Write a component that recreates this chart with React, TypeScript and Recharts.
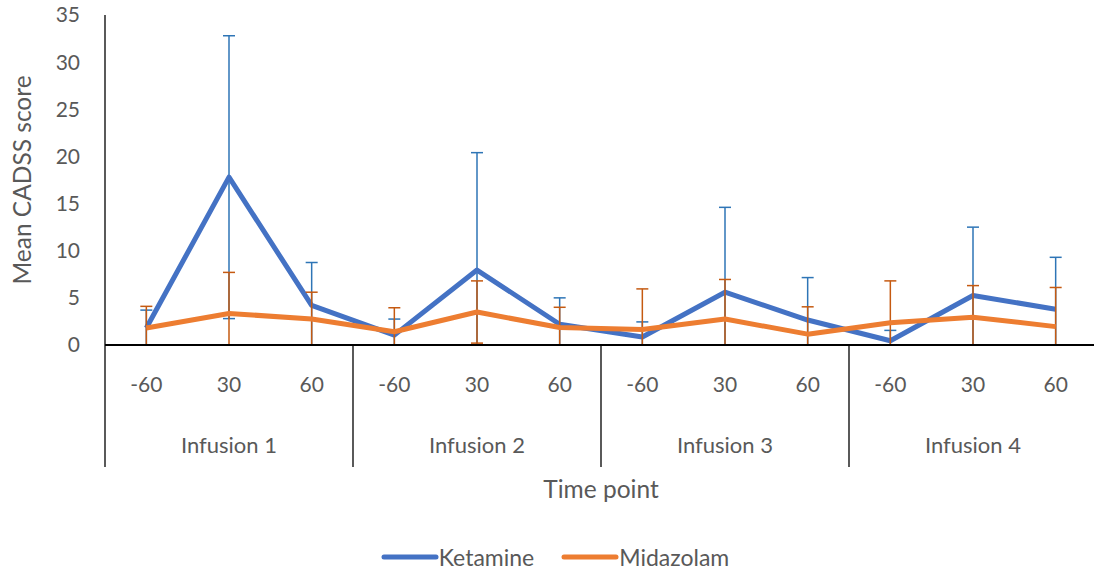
import { LineChart, Line, XAxis, YAxis, ErrorBar, Legend, ReferenceLine } from "recharts";

const groups = ["Infusion 1", "Infusion 2", "Infusion 3", "Infusion 4"];
const timePoints = ["-60", "30", "60"];

const ketamineMean = [1.8, 17.8, 4.2, 1.05, 7.95, 2.2, 0.85, 5.6, 2.65, 0.45, 5.25, 3.8];
const ketamineErr = [1.9, 15.0, 4.55, 1.7, 12.45, 2.8, 1.6, 9.0, 4.5, 1.1, 7.25, 5.5];
const midazolamMean = [1.8, 3.35, 2.75, 1.4, 3.5, 1.85, 1.65, 2.75, 1.15, 2.35, 2.95, 1.95];
const midazolamErr = [2.3, 4.35, 2.85, 2.55, 3.3, 2.15, 4.3, 4.2, 2.9, 4.45, 3.35, 4.15];

const yTicks = [0, 5, 10, 15, 20, 25, 30, 35];

// Excel stops the lower whisker at the axis, so the low side is capped at the mean
const n = groups.length * timePoints.length;
const data = groups.flatMap((group, gi) =>
  timePoints.map((time, ti) => {
    const i = gi * timePoints.length + ti;
    return {
      x: i,
      group,
      time,
      ketamine: ketamineMean[i],
      ketamineErr: [Math.min(ketamineErr[i], ketamineMean[i]), ketamineErr[i]],
      midazolam: midazolamMean[i],
      midazolamErr: [Math.min(midazolamErr[i], midazolamMean[i]), midazolamErr[i]],
    };
  })
);

// x runs over category indexes; each category owns [i - 0.5, i + 0.5]
const xDomain = [-0.5, n - 0.5];
const timeTicks = data.map((d) => d.x);
const groupTicks = groups.map((_, gi) => gi * timePoints.length + (timePoints.length - 1) / 2);
const sepTicks = [...groups.map((_, gi) => gi * timePoints.length - 0.5), n - 0.5];
// separators hang below the axis, down past the group labels (in y data units)
const SEP_DEPTH = -12.95;

const TEXT = "#595959";
const FONT = "Lato, 'Noto Sans', sans-serif";

const formatTime = (v: number) => data[v]?.time ?? "";
const formatGroup = (v: number) => data[v]?.group ?? "";

function LegendContent(props: any) {
  const { payload } = props;
  return (
    <div style={{ display: "flex", justifyContent: "center", gap: 27, fontFamily: FONT }}>
      {(payload || []).map((entry: any) => (
        <div key={entry.value} style={{ display: "flex", alignItems: "center" }}>
          <svg width={58} height={10}>
            <line x1={3} x2={55} y1={5} y2={5} stroke={entry.color} strokeWidth={5} strokeLinecap="round" />
          </svg>
          <span style={{ color: TEXT, fontSize: 23 }}>{entry.value}</span>
        </div>
      ))}
    </div>
  );
}

export default function App() {
  return (
    <div
      style={{
        position: "absolute",
        top: 0,
        left: 0,
        width: 1094,
        height: 571,
        overflow: "hidden",
        background: "#fff",
        fontFamily: FONT,
      }}
    >
      <LineChart
        width={1100}
        height={571}
        data={data}
        margin={{ top: 15, right: 3, left: 0, bottom: 104 }}
      >
        <YAxis
          width={105}
          domain={[0, 35]}
          ticks={yTicks}
          allowDataOverflow
          tickLine={false}
          tickSize={0}
          tickMargin={25}
          axisLine={{ stroke: "#000", strokeWidth: 1.3 }}
          tick={{ fill: TEXT, fontSize: 21 }}
          label={{
            value: "Mean CADSS score",
            angle: -90,
            position: "insideLeft",
            offset: 22,
            fill: TEXT,
            fontSize: 24.5,
            style: { textAnchor: "middle" },
          }}
        />
        {sepTicks.map((s) => (
          <ReferenceLine
            key={s}
            segment={[
              { x: s, y: 0 },
              { x: s, y: SEP_DEPTH },
            ]}
            ifOverflow="visible"
            stroke="#000"
            strokeWidth={1.3}
          />
        ))}
        <Line
          dataKey="ketamine"
          name="Ketamine"
          type="linear"
          stroke="#4472C4"
          strokeWidth={5}
          strokeLinejoin="round"
          dot={false}
          activeDot={false}
          isAnimationActive={false}
        >
          <ErrorBar
            dataKey="ketamineErr"
            direction="y"
            width={6}
            stroke="#2E75B6"
            strokeWidth={1.5}
            isAnimationActive={false}
          />
        </Line>
        <Line
          dataKey="midazolam"
          name="Midazolam"
          type="linear"
          stroke="#ED7D31"
          strokeWidth={5}
          strokeLinejoin="round"
          dot={false}
          activeDot={false}
          isAnimationActive={false}
        >
          <ErrorBar
            dataKey="midazolamErr"
            direction="y"
            width={6}
            stroke="#C55A11"
            strokeWidth={1.5}
            isAnimationActive={false}
          />
        </Line>
        <XAxis
          dataKey="x"
          type="number"
          domain={xDomain}
          ticks={timeTicks}
          interval={0}
          height={60}
          tickLine={false}
          tickSize={0}
          tickMargin={32}
          tickFormatter={formatTime}
          axisLine={{ stroke: "#000", strokeWidth: 1.8 }}
          tick={{ fill: TEXT, fontSize: 21 }}
        />
        <XAxis
          xAxisId="group"
          dataKey="x"
          type="number"
          domain={xDomain}
          ticks={groupTicks}
          interval={0}
          height={62}
          tickLine={false}
          tickSize={0}
          tickMargin={32}
          axisLine={false}
          tickFormatter={formatGroup}
          tick={{ fill: TEXT, fontSize: 22 }}
          label={{
            value: "Time point",
            position: "bottom",
            offset: 14,
            fill: TEXT,
            fontSize: 24.5,
          }}
        />
        <Legend
          verticalAlign="middle"
          align="center"
          layout="horizontal"
          wrapperStyle={{ top: 543, left: 0, width: 1110 }}
          content={<LegendContent />}
        />
      </LineChart>
    </div>
  );
}
